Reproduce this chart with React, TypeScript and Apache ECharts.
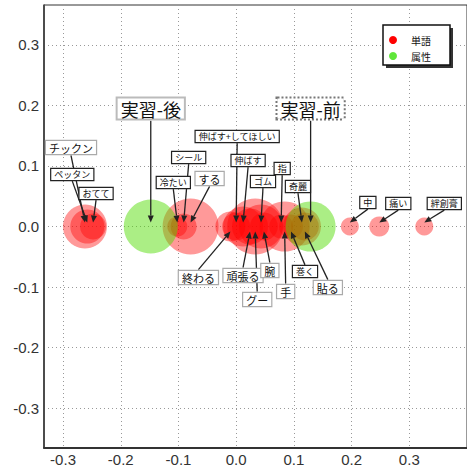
import React, { useEffect, useRef } from 'react';
import * as echarts from 'echarts';

// ---- data ----
const wordNames = ['チックン', 'ペッタン', 'おてて', '冷たい', 'シール', 'する', '終わる', '伸ばす+してほしい', '伸ばす', '頑張る', 'グー', 'ゴム', '腕', '指', '手', '巻く', '奇麗', '貼る', '中', '痛い', '絆創膏'];
const wordX = [-0.262, -0.258, -0.248, -0.102, -0.091, -0.079, -0.010, 0.0, 0.012, 0.024, 0.033, 0.043, 0.048, 0.078, 0.084, 0.095, 0.114, 0.119, 0.197, 0.248, 0.326];
const wordY = [0, 0, 0, 0, 0, 0, 0, 0, 0, 0, 0, 0, 0, 0, 0, 0, 0, 0, 0, 0, 0];
const wordSize = [22, 17, 13, 10, 13, 28, 15, 14, 20, 18, 28, 22, 14, 12, 25, 12, 19, 14, 9, 10, 9];

const attrNames = ['実習-後', '実習-前'];
const attrX = [-0.148, 0.129];
const attrY = [0, 0];
const attrSize = [27, 25];

const xTicks = [-0.3, -0.2, -0.1, 0.0, 0.1, 0.2, 0.3];
const yTicks = [-0.3, -0.2, -0.1, 0.0, 0.1, 0.2, 0.3];
const legendNames = ['単語', '属性'];

// ---- label layout (pixel offsets of label centre from the point; box style) ----
type Lay = { dx: number; dy: number; kind: 'k' | 'g' | 'big' | 'bigdot' };
const wordLayout: Lay[] = [
  { dx: -14, dy: -79, kind: 'g' },
  { dx: -15, dy: -52, kind: 'k' },
  { dx: 3, dy: -33, kind: 'k' },
  { dx: -4, dy: -44, kind: 'k' },
  { dx: 5, dy: -69, kind: 'k' },
  { dx: 19, dy: -48, kind: 'g' },
  { dx: -32, dy: 51, kind: 'g' },
  { dx: 1, dy: -90, kind: 'k' },
  { dx: 5, dy: -66, kind: 'k' },
  { dx: -7, dy: 49, kind: 'g' },
  { dx: 2, dy: 73, kind: 'g' },
  { dx: 2, dy: -45, kind: 'k' },
  { dx: 6, dy: 44, kind: 'g' },
  { dx: 1, dy: -58, kind: 'k' },
  { dx: 1, dy: 65, kind: 'g' },
  { dx: 14, dy: 45, kind: 'k' },
  { dx: -4, dy: -40, kind: 'k' },
  { dx: 23, dy: 61, kind: 'g' },
  { dx: 18, dy: -24, kind: 'k' },
  { dx: 19, dy: -23, kind: 'k' },
  { dx: 20, dy: -23, kind: 'k' },
];
const attrLayout: Lay[] = [
  { dx: 0, dy: -118, kind: 'big' },
  { dx: 0, dy: -118, kind: 'bigdot' },
];

const JP = '"Noto Sans CJK JP", "Noto Sans", sans-serif';
const NUM = '"Liberation Sans", Arial, sans-serif';
const RED = 'rgba(255,0,0,0.5)';
const GREEN = 'rgba(80,220,0,0.6)';

function isTick(v: number, ticks: number[]) {
  return ticks.some((t) => Math.abs(t - v) < 1e-6);
}

export default function App() {
  const ref = useRef<HTMLDivElement>(null);
  useEffect(() => {
    if (!ref.current) return;
    const chart = echarts.init(ref.current, undefined, { renderer: 'svg' });
    const axisLabel = (ticks: number[], margin: number) => ({
      color: '#333',
      fontSize: 15,
      fontFamily: NUM,
      margin,
      showMinLabel: false,
      showMaxLabel: false,
      formatter: (v: number) => (isTick(v, ticks) ? v.toFixed(1) : ''),
    });
    const splitLine = { show: true, lineStyle: { color: '#999', type: [1, 3] as any, width: 1 } };
    chart.setOption({
      animation: false,
      backgroundColor: '#fff',
      grid: { left: 44, top: 5, width: 425, height: 443, show: true, borderColor: '#333', borderWidth: 1 },
      xAxis: {
        type: 'value', min: -0.333, max: 0.4, splitNumber: 7,
        axisLine: { show: true, onZero: false, lineStyle: { color: '#333', width: 2 } },
        axisTick: { show: false },
        axisLabel: axisLabel(xTicks, 4),
        splitLine,
      },
      yAxis: {
        type: 'value', min: -0.366, max: 0.366, splitNumber: 7,
        axisLine: { show: true, onZero: false, lineStyle: { color: '#333', width: 1.5 } },
        axisTick: { show: false },
        axisLabel: axisLabel(yTicks, 5),
        splitLine,
      },
      legend: {
        data: [
          { name: legendNames[0], itemStyle: { color: '#ff0000', opacity: 1 } },
          { name: legendNames[1], itemStyle: { color: '#5fe63a', opacity: 1 } },
        ],
        orient: 'vertical', left: 389, top: 35, itemWidth: 26, itemHeight: 8, itemGap: 6,
        icon: 'circle', textStyle: { fontSize: 10, color: '#111', fontFamily: JP }, z: 10,
        padding: 0,
      },
      series: [
        {
          name: legendNames[0], type: 'scatter',
          data: wordX.map((x, i) => [x, wordY[i], wordSize[i], wordNames[i]]),
          symbolSize: (v: any) => v[2] * 2,
          itemStyle: { color: RED },
          z: 2,
        },
        {
          name: legendNames[1], type: 'scatter',
          data: attrX.map((x, i) => [x, attrY[i], attrSize[i], attrNames[i]]),
          symbolSize: (v: any) => v[2] * 2,
          itemStyle: { color: GREEN },
          z: 3,
        },
      ],
    });

    const graphics: any[] = [
      { type: 'rect', z: 5, shape: { x: 386, y: 28, width: 67, height: 40 }, style: { fill: '#333' } },
      { type: 'rect', z: 6, shape: { x: 383, y: 25, width: 67, height: 40 }, style: { fill: '#fff', stroke: '#111', lineWidth: 1.5 } },
    ];

    const addLabel = (name: string, x: number, y: number, lay: Lay) => {
      const p = chart.convertToPixel({ gridIndex: 0 }, [x, y]) as number[];
      const cx = p[0] + lay.dx;
      const cy = p[1] + lay.dy;
      let fs = 9, pad: number[] = [1, 3], border = '#222', bw = 1.2, dash: any = null;
      if (lay.kind === 'g') { fs = 11; pad = [1, 3]; border = '#aaa'; bw = 1.2; }
      if (lay.kind === 'big') { fs = 18; pad = [1, 3]; border = '#bbb'; bw = 2; }
      if (lay.kind === 'bigdot') { fs = 18; pad = [1, 3]; border = '#777'; bw = 2; dash = [2, 2]; }
      const h = fs * 1.25 + pad[0] * 2;
      const above = lay.dy < 0;
      const sx = cx;
      const sy = above ? cy + h / 2 : cy - h / 2;
      const tx = p[0];
      const ty = above ? p[1] - 4 : p[1] + 5;
      const ang = Math.atan2(ty - sy, tx - sx);
      const L = 7, W = 3;
      const bx = tx - L * Math.cos(ang), by = ty - L * Math.sin(ang);
      const nx = -Math.sin(ang) * W, ny = Math.cos(ang) * W;
      graphics.push({
        type: 'line', z: 15,
        shape: { x1: sx, y1: sy, x2: bx, y2: by },
        style: { stroke: '#222', lineWidth: 1.3 },
      });
      graphics.push({
        type: 'polygon', z: 15,
        shape: { points: [[tx, ty], [bx + nx, by + ny], [bx - nx, by - ny]] },
        style: { fill: '#222' },
      });
      const st: any = {
        text: name, font: `${fs}px ${JP}`, fill: '#111',
        align: 'center', verticalAlign: 'middle',
        backgroundColor: '#fff', borderColor: border, borderWidth: bw, padding: pad,
      };
      if (dash) { st.borderDash = dash; st.borderType = dash; }
      graphics.push({ type: 'text', z: 20, x: cx, y: cy, style: st });
    };

    wordNames.forEach((n, i) => addLabel(n, wordX[i], wordY[i], wordLayout[i]));
    attrNames.forEach((n, i) => addLabel(n, attrX[i], attrY[i], attrLayout[i]));

    chart.setOption({ graphic: graphics });
    return () => chart.dispose();
  }, []);
  return <div ref={ref} style={{ width: 467, height: 469, position: 'absolute', left: 0, top: 0 }} />;
}
